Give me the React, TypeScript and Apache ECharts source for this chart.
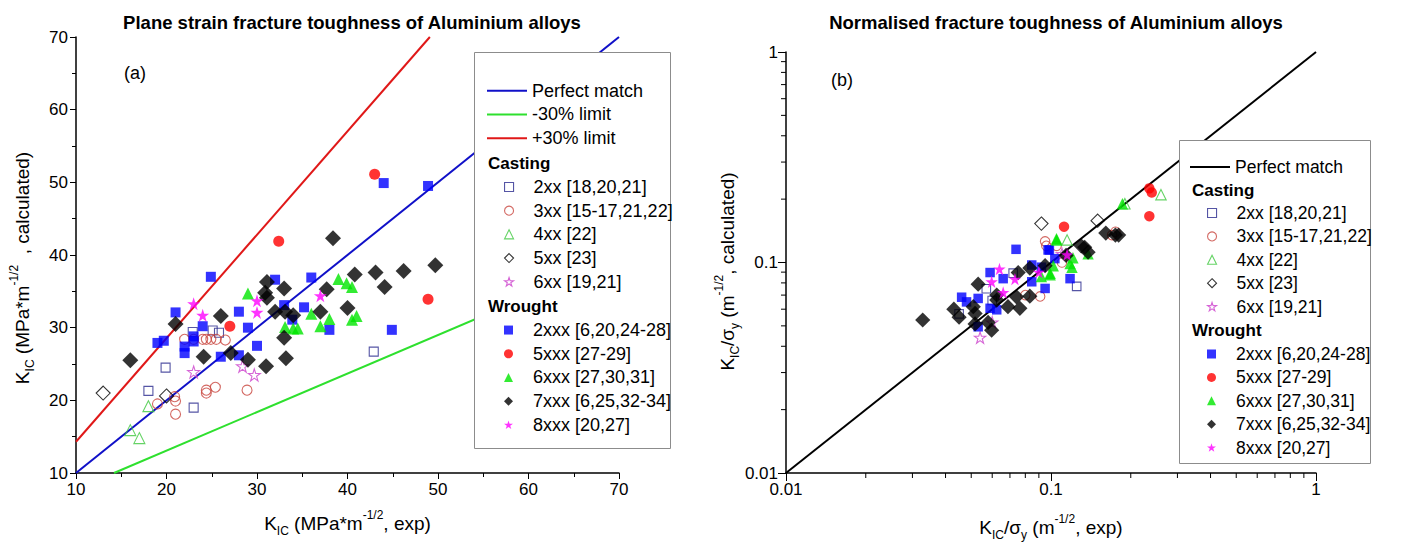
import React, { useEffect, useRef } from "react";
import * as echarts from "echarts";

// ---------- data: panel (a), K_IC exp vs calculated (MPa*m^-1/2) ----------
const perfectA = [[10, 10], [70, 70]];
const minus30A = [[14.2, 10], [70, 39.6]];
const plus30A = [[10, 14.3], [49.1, 70]];

const a2xx = [[22.9, 29.4], [25.1, 29.6], [25.8, 29.3], [19.9, 24.5], [18.0, 21.3], [23.0, 19.0], [42.9, 26.7]];
const a3xx = [[22.0, 28.4], [23.0, 28.4], [24.0, 28.4], [24.4, 28.4], [24.9, 28.4], [25.5, 28.4], [26.5, 28.3],
  [19.0, 19.5], [20.9, 20.5], [21.0, 19.9], [21.0, 18.1], [24.4, 21.4], [24.4, 21.0], [25.4, 21.8], [28.9, 21.4]];
const a4xx = [[18.0, 19.2], [16.0, 15.9], [17.0, 14.8]];
const a5xx = [[13.0, 21.0], [20.0, 20.6]];
const a6xx = [[23.0, 23.9], [28.4, 24.7], [29.7, 23.5]];
const a2xxx = [[24.9, 37.0], [21.0, 32.1], [24.0, 30.2], [28.0, 32.2], [29.0, 30.0], [19.0, 27.9], [19.7, 28.2],
  [22.0, 27.4], [22.0, 26.5], [23.0, 28.8], [23.0, 28.1], [26.0, 26.0], [28.0, 26.2], [30.0, 27.5], [32.0, 36.6],
  [36.0, 36.9], [33.0, 33.1], [35.2, 32.8], [33.9, 31.1], [38.0, 29.7], [44.9, 29.7], [44.0, 49.9], [48.9, 49.5]];
const a5xxx = [[27.0, 30.2], [32.4, 41.9], [43.0, 51.1], [48.9, 33.9]];
const a6xxx = [[29.0, 34.7], [39.0, 36.7], [39.9, 36.1], [40.5, 35.6], [36.0, 31.9], [38.0, 31.2], [37.0, 30.2],
  [40.5, 31.1], [41.0, 31.6], [33.1, 30.1], [34.0, 29.9], [34.5, 29.9]];
const a7xxx = [[16.0, 25.5], [21.0, 30.5], [26.0, 31.6], [24.1, 26.0], [27.1, 26.5], [29.0, 25.6], [31.1, 36.3],
  [30.9, 34.8], [31.1, 34.1], [31.0, 24.7], [33.0, 35.4], [32.0, 32.2], [33.1, 32.2], [34.0, 31.7], [37.0, 32.2],
  [40.0, 32.7], [33.0, 28.6], [33.2, 25.8], [37.7, 35.3], [40.8, 37.3], [43.1, 37.6], [46.2, 37.8], [49.7, 38.6],
  [44.1, 35.6], [38.4, 42.3]];
const a8xxx = [[23.0, 33.3], [24.0, 31.7], [30.0, 33.7], [30.0, 32.1], [37.0, 34.4]];

// ---------- data: panel (b), K_IC/sigma_y exp vs calculated (m^-1/2) ----------
const perfectB = [[0.01, 0.01], [1, 1]];
const b2xx = [[0.045, 0.057], [0.057, 0.075], [0.072, 0.089], [0.125, 0.077], [0.06, 0.066]];
const b3xx = [[0.095, 0.126], [0.096, 0.12], [0.091, 0.069], [0.17, 0.135], [0.175, 0.14], [0.105, 0.12], [0.11, 0.1], [0.08, 0.07]];
const b4xx = [[0.115, 0.128], [0.26, 0.21], [0.19, 0.19]];
const b5xx = [[0.092, 0.153], [0.15, 0.158]];
const b6xx = [[0.054, 0.044], [0.06, 0.052], [0.11, 0.11]];
const b2xxx = [[0.0738, 0.1155], [0.0589, 0.0896], [0.066, 0.0838], [0.046, 0.0684], [0.0531, 0.0675], [0.0589, 0.0606],
  [0.0624, 0.0596], [0.0846, 0.0973], [0.092, 0.095], [0.0986, 0.1147], [0.1034, 0.1043], [0.0846, 0.081], [0.095, 0.0753],
  [0.0531, 0.0495], [0.118, 0.0838], [0.0975, 0.1147], [0.048, 0.065]];
const b5xxx = [[0.235, 0.225], [0.24, 0.215], [0.235, 0.166], [0.112, 0.148]];
const b6xxx = [[0.1049, 0.1297], [0.092, 0.0857], [0.0993, 0.0874], [0.105, 0.128], [0.121, 0.1054], [0.118, 0.0988],
  [0.138, 0.11], [0.102, 0.0965], [0.0993, 0.0888], [0.186, 0.19], [0.12, 0.095]];
const b7xxx = [[0.0328, 0.0533], [0.0531, 0.0789], [0.0624, 0.0701], [0.0509, 0.0617], [0.0517, 0.0573], [0.0517, 0.0511],
  [0.0579, 0.0519], [0.0597, 0.0477], [0.0624, 0.0663], [0.0688, 0.0617], [0.0763, 0.0606], [0.0741, 0.0687],
  [0.0752, 0.0896], [0.0832, 0.0941], [0.0832, 0.0692], [0.095, 0.0966], [0.134, 0.118], [0.138, 0.112], [0.114, 0.108],
  [0.161, 0.138], [0.175, 0.135], [0.18, 0.135], [0.13, 0.12], [0.043, 0.06], [0.045, 0.055]];
const b8xxx = [[0.0639, 0.0931], [0.0597, 0.081], [0.0731, 0.0834], [0.066, 0.072], [0.115, 0.109], [0.09, 0.09]];

// minor tick values of the log axes
const logMinorTicks = [0.02, 0.03, 0.04, 0.05, 0.06, 0.07, 0.08, 0.09, 0.2, 0.3, 0.4, 0.5, 0.6, 0.7, 0.8, 0.9];

const lineNames = ["Perfect match", "-30% limit", "+30% limit"];
const castingNames = ["2xx [18,20,21]", "3xx [15-17,21,22]", "4xx [22]", "5xx [23]", "6xx [19,21]"];
const wroughtNames = ["2xxx [6,20,24-28]", "5xxx [27-29]", "6xxx [27,30,31]", "7xxx [6,25,32-34]", "8xxx [20,27]"];

const FONT = "'Liberation Sans', Arial, sans-serif";
const STAR = "path://M50,2 L61.2,36.3 L97.6,36.3 L68.2,57.7 L79.4,92 L50,70.8 L20.6,92 L31.8,57.7 L2.4,36.3 L38.8,36.3 Z";

type Sty = { symbol: string; size: number; color: string; hollow: boolean };
const styles: Record<string, Sty> = {
  "2xx [18,20,21]": { symbol: "rect", size: 9, color: "#2a2a8e", hollow: true },
  "3xx [15-17,21,22]": { symbol: "circle", size: 10, color: "#c8433c", hollow: true },
  "4xx [22]": { symbol: "triangle", size: 11, color: "#3fc83f", hollow: true },
  "5xx [23]": { symbol: "diamond", size: 14, color: "#000000", hollow: true },
  "6xx [19,21]": { symbol: STAR, size: 12, color: "#cc3fcc", hollow: true },
  "2xxx [6,20,24-28]": { symbol: "rect", size: 10, color: "#0000ff", hollow: false },
  "5xxx [27-29]": { symbol: "circle", size: 11, color: "#ff0000", hollow: false },
  "6xxx [27,30,31]": { symbol: "triangle", size: 12, color: "#00e600", hollow: false },
  "7xxx [6,25,32-34]": { symbol: "diamond", size: 16, color: "#000000", hollow: false },
  "8xxx [20,27]": { symbol: STAR, size: 13, color: "#ff00ff", hollow: false },
};
const lineColors: Record<string, string> = {
  "Perfect match": "#1010c8",
  "-30% limit": "#2ee02e",
  "+30% limit": "#e01818",
  "Perfect match (b)": "#000000",
};

function itemStyleOf(s: Sty) {
  return s.hollow
    ? { color: "rgba(255,255,255,0)", borderColor: s.color, borderWidth: 1.1 }
    : { color: s.color, borderWidth: 0 };
}

function scatter(name: string, data: number[][], idx: number, scale: number) {
  const s = styles[name];
  return {
    type: "scatter",
    name,
    xAxisIndex: idx,
    yAxisIndex: idx,
    data,
    symbol: s.symbol,
    symbolSize: s.size * scale,
    itemStyle: itemStyleOf(s),
    z: s.hollow ? 3 : 4,
  };
}

function lineSeries(name: string, data: number[][], idx: number) {
  return {
    type: "line", name, xAxisIndex: idx, yAxisIndex: idx, data, symbol: "none", showSymbol: false,
    lineStyle: { color: lineColors[name], width: 2 }, itemStyle: { color: lineColors[name] }, z: 1,
  };
}

function legendItems(names: string[]) {
  return names.map((n) => ({ name: n, icon: styles[n].symbol, itemStyle: itemStyleOf(styles[n]) }));
}
function lineLegendItems(names: string[]) {
  return names.map((n) => ({ name: n, icon: "rect", itemStyle: { color: lineColors[n], borderWidth: 0 } }));
}

const richName = {
  a: { fontSize: 19, fontFamily: FONT, color: "#000", lineHeight: 28, verticalAlign: "middle" },
  s: { fontSize: 12, fontFamily: FONT, color: "#000", lineHeight: 28, verticalAlign: "bottom" },
  p: { fontSize: 12, fontFamily: FONT, color: "#000", lineHeight: 28, verticalAlign: "top" },
};

const axisCommon = {
  axisLine: { show: true, lineStyle: { color: "#000", width: 1.5 } },
  axisTick: { show: true, length: 6, lineStyle: { color: "#000", width: 1 } },
  splitLine: { show: false },
  axisLabel: { fontSize: 17, color: "#000", fontFamily: FONT, margin: 8 },
  nameLocation: "middle",
};

export default function App() {
  const ref = useRef<HTMLDivElement>(null);
  useEffect(() => {
    document.body.style.margin = "0";
    const chart = echarts.init(ref.current!, null, { renderer: "svg" });
    const fmtLog = (v: number) => String(parseFloat(v.toPrecision(3)));
    const legendText = { fontSize: 18, fontFamily: FONT, color: "#000", lineHeight: 23.7 };
    const legendTextB = { fontSize: 17.5, fontFamily: FONT, color: "#000", lineHeight: 23.4 };
    const titleStyle = { fontSize: 18.5, fontWeight: "bold", fontFamily: "'Liberation Sans Narrow', " + FONT, color: "#000" };
    const headFont = "bold 17px " + FONT;
    const option: any = {
      animation: false,
      backgroundColor: "#fff",
      title: [
        { text: "Plane strain fracture toughness of Aluminium alloys", left: 347, top: 8, textAlign: "center", textStyle: titleStyle },
        { text: "Normalised fracture toughness of Aluminium alloys", left: 1051, top: 8, textAlign: "center", textStyle: titleStyle },
      ],
      grid: [
        { left: 76, top: 37, width: 543, height: 436 },
        { left: 786, top: 52, width: 530, height: 421 },
      ],
      xAxis: [
        { ...axisCommon, gridIndex: 0, type: "value", min: 10, max: 70, interval: 10,
          minorTick: { show: true, splitNumber: 2, length: 4, lineStyle: { color: "#000" } },
          name: "{a|K}{s|IC}{a| (MPa*m}{p|-1/2}{a|, exp)}", nameGap: 36, nameTextStyle: { rich: richName } },
        { ...axisCommon, gridIndex: 1, type: "log", logBase: 10, min: 0.01, max: 1,
          axisLabel: { ...axisCommon.axisLabel, formatter: fmtLog },
          axisTick: { show: true, length: 8, lineStyle: { color: "#000" } },
          name: "{a|K}{s|IC}{a|/σ}{s|y}{a| (m}{p|-1/2}{a|, exp)}", nameGap: 40, nameTextStyle: { rich: richName } },
      ],
      yAxis: [
        { ...axisCommon, gridIndex: 0, type: "value", min: 10, max: 70, interval: 10,
          minorTick: { show: true, splitNumber: 2, length: 4, lineStyle: { color: "#000" } },
          name: "{a|K}{s|IC}{a| (MPa*m}{p|-1/2}{a|  , calculated)}", nameGap: 40,
          nameTextStyle: { rich: richName, padding: [0, 26, 0, 0] } },
        { ...axisCommon, gridIndex: 1, type: "log", logBase: 10, min: 0.01, max: 1,
          axisLabel: { ...axisCommon.axisLabel, formatter: fmtLog },
          axisTick: { show: true, length: 8, lineStyle: { color: "#000" } },
          name: "{a|K}{s|IC}{a|/σ}{s|y}{a| (m}{p|-1/2}{a|, calculated)}", nameGap: 33,
          nameTextStyle: { rich: richName, padding: [0, 18, 0, 0] } },
      ],
      legend: [
        { left: 487, top: 78.9, orient: "vertical", padding: 0, itemGap: 0, itemWidth: 40, itemHeight: 2,
          selectedMode: false, textStyle: legendText, data: lineLegendItems(lineNames) },
        { left: 504, top: 175.1, orient: "vertical", padding: 0, itemGap: 0, itemWidth: 9, itemHeight: 9,
          selectedMode: false, textStyle: { ...legendText, padding: [0, 0, 0, 15] }, data: legendItems(castingNames) },
        { left: 504, top: 318.2, orient: "vertical", padding: 0, itemGap: 0, itemWidth: 9, itemHeight: 9,
          selectedMode: false, textStyle: { ...legendText, padding: [0, 0, 0, 15] }, data: legendItems(wroughtNames) },
        { left: 1190, top: 155.3, orient: "vertical", padding: 0, itemGap: 0, itemWidth: 40, itemHeight: 2,
          selectedMode: false, textStyle: legendTextB, data: lineLegendItems(["Perfect match (b)"]),
          formatter: (n: string) => n.replace(" (b)", "") },
        { left: 1207, top: 201.3, orient: "vertical", padding: 0, itemGap: 0, itemWidth: 9, itemHeight: 9,
          selectedMode: false, textStyle: { ...legendTextB, padding: [0, 0, 0, 15] }, data: legendItems(castingNames) },
        { left: 1207, top: 342.3, orient: "vertical", padding: 0, itemGap: 0, itemWidth: 9, itemHeight: 9,
          selectedMode: false, textStyle: { ...legendTextB, padding: [0, 0, 0, 15] }, data: legendItems(wroughtNames) },
      ],
      graphic: [
        { type: "rect", z: 3, shape: { x: 474.5, y: 52.5, width: 196, height: 396 },
          style: { fill: "#fff", stroke: "#8c8c8c", lineWidth: 1 } },
        { type: "rect", z: 3, shape: { x: 1179.5, y: 140.5, width: 191, height: 323 },
          style: { fill: "#fff", stroke: "#8c8c8c", lineWidth: 1 } },
        { type: "text", z: 5, x: 488, y: 163, style: { text: "Casting", font: headFont, fill: "#000", verticalAlign: "middle" } },
        { type: "text", z: 5, x: 488, y: 306, style: { text: "Wrought", font: headFont, fill: "#000", verticalAlign: "middle" } },
        { type: "text", z: 5, x: 1192, y: 190, style: { text: "Casting", font: headFont, fill: "#000", verticalAlign: "middle" } },
        { type: "text", z: 5, x: 1192, y: 330, style: { text: "Wrought", font: headFont, fill: "#000", verticalAlign: "middle" } },
        { type: "text", z: 5, x: 124, y: 73, style: { text: "(a)", font: "18px " + FONT, fill: "#000", verticalAlign: "middle" } },
        { type: "text", z: 5, x: 831, y: 80, style: { text: "(b)", font: "18px " + FONT, fill: "#000", verticalAlign: "middle" } },
      ],
      series: [
        lineSeries("Perfect match", perfectA, 0),
        lineSeries("-30% limit", minus30A, 0),
        lineSeries("+30% limit", plus30A, 0),
        scatter(castingNames[0], a2xx, 0, 1), scatter(castingNames[1], a3xx, 0, 1), scatter(castingNames[2], a4xx, 0, 1),
        scatter(castingNames[3], a5xx, 0, 1), scatter(castingNames[4], a6xx, 0, 1),
        scatter(wroughtNames[0], a2xxx, 0, 1), scatter(wroughtNames[1], a5xxx, 0, 1), scatter(wroughtNames[2], a6xxx, 0, 1),
        scatter(wroughtNames[3], a7xxx, 0, 1), scatter(wroughtNames[4], a8xxx, 0, 1),
        lineSeries("Perfect match (b)", perfectB, 1),
        scatter(castingNames[0], b2xx, 1, 0.95), scatter(castingNames[1], b3xx, 1, 0.95), scatter(castingNames[2], b4xx, 1, 0.95),
        scatter(castingNames[3], b5xx, 1, 0.95), scatter(castingNames[4], b6xx, 1, 0.95),
        scatter(wroughtNames[0], b2xxx, 1, 0.95), scatter(wroughtNames[1], b5xxx, 1, 0.95), scatter(wroughtNames[2], b6xxx, 1, 0.95),
        scatter(wroughtNames[3], b7xxx, 1, 0.95), scatter(wroughtNames[4], b8xxx, 1, 0.95),
        {
          type: "custom", xAxisIndex: 1, yAxisIndex: 1, silent: true, clip: false, z: 1,
          data: [...logMinorTicks.map((v) => [v, 0.01, 0]), ...logMinorTicks.map((v) => [0.01, v, 1])],
          encode: { x: 0, y: 1 },
          renderItem: (_p: any, api: any) => {
            const pt = api.coord([api.value(0), api.value(1)]);
            const horiz = api.value(2) === 1;
            return {
              type: "line",
              shape: horiz
                ? { x1: pt[0], y1: pt[1], x2: pt[0] - 5, y2: pt[1] }
                : { x1: pt[0], y1: pt[1], x2: pt[0], y2: pt[1] + 5 },
              style: { stroke: "#000", lineWidth: 1 },
            };
          },
        },
      ],
    };
    chart.setOption(option);
    return () => chart.dispose();
  }, []);
  return <div ref={ref} style={{ width: 1402, height: 550 }} />;
}
